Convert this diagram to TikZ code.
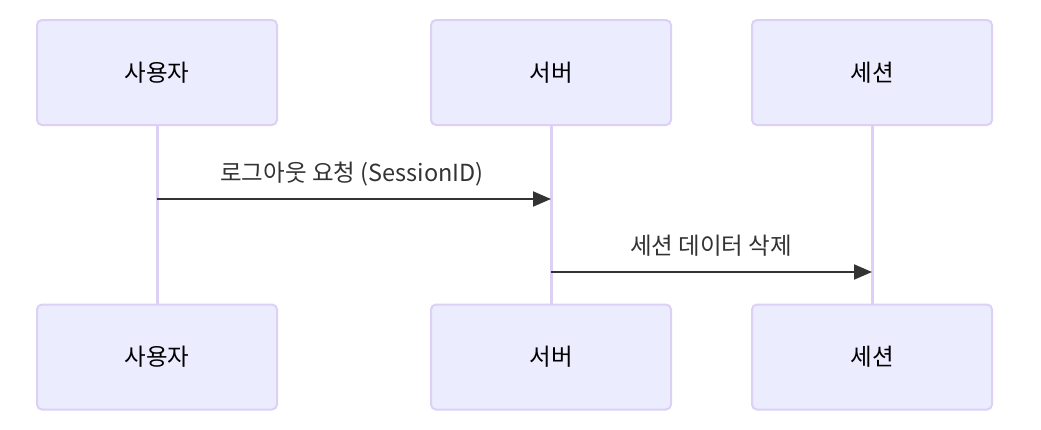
\documentclass[tikz,border=0pt]{standalone}
\usepackage{fontspec}
\setmainfont{Noto Sans CJK KR}
\usepackage{xcolor}
\usepackage{tikz}
\usetikzlibrary{arrows.meta}

\definecolor{actorfill}{HTML}{ECECFF}
\definecolor{actorline}{HTML}{DCD0F5}
\definecolor{msgline}{HTML}{333333}

\tikzset{
  actor/.style={draw=actorline, line width=2pt, fill=actorfill, rounded corners=5pt,
    minimum width=240pt, minimum height=105pt, inner sep=0pt,
    font=\fontsize{23.5}{28}\selectfont, text=black},
  lifeline/.style={draw=actorline, line width=3pt},
  message/.style={draw=msgline, line width=2pt, -{Triangle[length=18pt,width=15pt]}},
  msglabel/.style={font=\fontsize{23.5}{28}\selectfont, text=msgline, anchor=base}
}

\begin{document}
\begin{tikzpicture}[x=1pt, y=-1pt]

\useasboundingbox (0,0) rectangle (1041,429);

% Actors, top and bottom
\foreach \name/\x/\txt in {user/157/사용자, server/551/서버, session/872/세션} {
    \node[actor] (\name top) at (\x, 72.5) {\txt};
    \node[actor] (\name bot) at (\x, 357) {\txt};
}

% Lifelines
\foreach \name in {user, server, session}
    \draw[lifeline] (\name top.south) -- (\name bot.north);

% Message end points on the lifelines
\coordinate (m1from) at (157, 199);
\coordinate (m1to) at (551, 199);
\coordinate (m2from) at (551, 272);
\coordinate (m2to) at (872, 272);

% Messages
\draw[message] (m1from) -- (m1to);
\node[msglabel] (m1label) at (352, 181) {로그아웃 요청 (SessionID)};

\draw[message] (m2from) -- (m2to);
\node[msglabel] (m2label) at (711, 254) {세션 데이터 삭제};

\end{tikzpicture}
\end{document}
